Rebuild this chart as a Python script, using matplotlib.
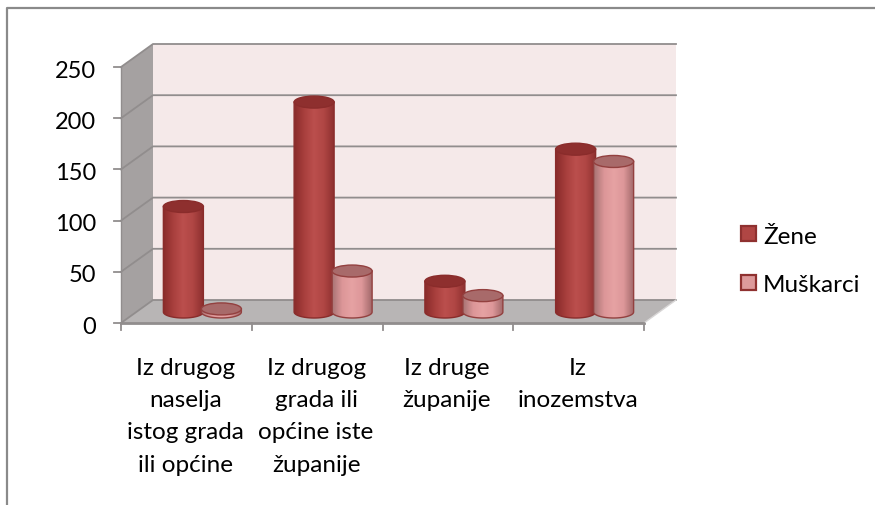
import numpy as np
import matplotlib.pyplot as plt
from matplotlib.colors import LinearSegmentedColormap
from matplotlib.patches import Ellipse, PathPatch, Polygon, Rectangle
from matplotlib.path import Path

plt.rcParams['font.family'] = ['Lato', 'DejaVu Sans']

categories = ["Iz drugog\nnaselja\nistog grada\nili općine",
              "Iz drugog\ngrada ili\nopćine iste\nžupanije",
              "Iz druge\nžupanije",
              "Iz\ninozemstva"]
zene = [103, 205, 30, 159]
muskarci = [3, 40, 16, 147]
yticks = [0, 50, 100, 150, 200, 250]

# scale of the front plane, pixels per unit
PX = 130.75
PY = 1.024
X0 = 121
Y0 = 324
DX = 32 / PX
DY = 23 / PY

fig = plt.figure(figsize=(8.75, 5.06), dpi=100)
ax = fig.add_axes([0, 0, 1, 1])
ax.set_xlim(-X0 / PX, (875 - X0) / PX)
ax.set_ylim(-(506 - Y0) / PY, Y0 / PY)
ax.axis("off")

n = len(categories)
grid = "#918d8d"

# frame of the pasted chart
ax.plot([(7 - X0) / PX, (7 - X0) / PX, (875 - X0) / PX],
        [-(506 - Y0) / PY, (Y0 - 8.5) / PY, (Y0 - 8.5) / PY],
        color="#8a8a8a", lw=1.6, zorder=1)

# walls and floor
ax.add_patch(Rectangle((DX, DY), n, 250, fc="#f5e9e9", ec="none", zorder=1))
ax.add_patch(Polygon([(0, 0), (DX, DY), (DX, 250 + DY), (0, 250)], fc="#a5a1a1", ec="none", zorder=1))
ax.add_patch(Polygon([(0, 0), (n, 0), (n + DX, DY), (DX, DY)], fc="#b8b5b5", ec="none", zorder=1))

for v in yticks:
    ax.plot([0, DX, n + DX], [v, v + DY, v + DY], color=grid, lw=1.3, zorder=2)
    ax.plot([-7 / PX, 0], [v, v], color=grid, lw=1.3, zorder=2)
    ax.text(-25 / PX, v - 1 / PY, str(v), ha="right", va="center_baseline", fontsize=17, color="black")
ax.plot([0, 0], [0, 250], color=grid, lw=1, zorder=2)
ax.plot([0, n], [0, 0], color=grid, lw=2, zorder=2)
ax.plot([n, n + DX], [0, DY], color="#d8d6d6", lw=1, zorder=2)
for i in range(n + 1):
    ax.plot([i, i], [0, -7 / PY], color=grid, lw=1.3, zorder=2)

for i, label in enumerate(categories):
    ax.text(i + 0.5 - 1 / PX, -34 / PY, label, ha="center", va="top", fontsize=17.5,
            linespacing=1.66, color="black")

dark_map = LinearSegmentedColormap.from_list(
    "zene", ["#8a2c2b", "#a83f3d", "#bb4f4d", "#b04644", "#8f3130"])
light_map = LinearSegmentedColormap.from_list(
    "muskarci", ["#a87474", "#dc9698", "#e6a2a3", "#dd9799", "#a36a6b"])
shade = np.linspace(0, 1, 64).reshape(1, -1)


def cylinder(center, value, cmap, top, edge, z):
    w = 20 / PX
    e = 6 / PY
    base = 11 / PY
    left, right = center - w, center + w
    t = np.linspace(np.pi, 2 * np.pi, 40)
    arc_x = center + w * np.cos(t)
    arc_y = base + e * np.sin(t)
    xs = np.r_[arc_x, right, left]
    ys = np.r_[arc_y, base + value, base + value]
    body = Path(np.c_[xs, ys])
    im = ax.imshow(shade, cmap=cmap, extent=(left, right, base - e, base + value),
                   aspect="auto", zorder=z)
    patch = PathPatch(body, fc="none", ec="none", transform=ax.transData)
    ax.add_patch(patch)
    im.set_clip_path(patch)
    ax.plot(np.r_[left, arc_x, right], np.r_[base + value, arc_y, base + value],
            color=edge, lw=1, zorder=z + 0.1)
    ax.add_patch(Ellipse((center, base + value), 2 * w, 2 * e, fc=top, ec=edge, lw=1, zorder=z + 0.2))


for i in range(n):
    mid = i + 0.5 + DX / 2
    cylinder(mid - 19 / PX, zene[i], dark_map, "#8e2f2e", "#8a2c2b", 3)
    cylinder(mid + 19 / PX, muskarci[i], light_map, "#a86a6a", "#93403f", 4)

# legend
for label, face, ypx in [("Žene", "#b04644", 235), ("Muškarci", "#dd9a9b", 284)]:
    ax.add_patch(Rectangle(((741 - X0) / PX, (Y0 - ypx - 7) / PY), 15 / PX, 15 / PY,
                           fc=face, ec="#8f3130", lw=1.6, zorder=5))
    ax.text((763 - X0) / PX, (Y0 - ypx) / PY, label, ha="left", va="center_baseline",
            fontsize=17.5, color="black")

fig.savefig("out.png", dpi=100)
